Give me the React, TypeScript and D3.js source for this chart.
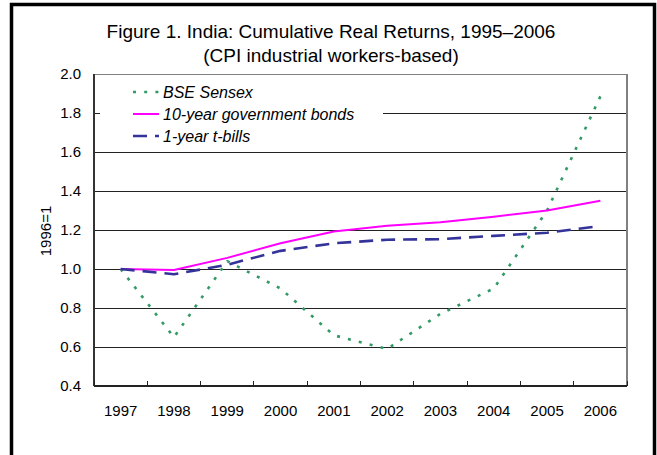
import React from "react";
import * as d3 from "d3";

const years = ["1997", "1998", "1999", "2000", "2001", "2002", "2003", "2004", "2005", "2006"];
const sensex = [1.0, 0.65, 1.04, 0.9, 0.66, 0.59, 0.77, 0.9, 1.3, 1.885];
const bonds = [1.0, 0.995, 1.057, 1.132, 1.192, 1.222, 1.24, 1.268, 1.3, 1.35];
const tbills = [1.0, 0.973, 1.022, 1.093, 1.132, 1.15, 1.153, 1.17, 1.186, 1.22];
const yTicks = [0.4, 0.6, 0.8, 1.0, 1.2, 1.4, 1.6, 1.8, 2.0];
const titleLines = ["Figure 1. India: Cumulative Real Returns, 1995–2006", "(CPI industrial workers-based)"];
const yAxisTitle = "1996=1";
const seriesNames = ["BSE Sensex", "10-year government bonds", "1-year t-bills"];

const W = 657;
const H = 455;
const M = { left: 94, right: 627, top: 74, bottom: 386 };
const FONT = "'Liberation Sans', Arial, Helvetica, sans-serif";

export default function App() {
  const x = d3.scaleBand<string>().domain(years).range([M.left, M.right]).padding(0);
  const y = d3.scaleLinear().domain([0.4, 2.0]).range([M.bottom, M.top]);
  const cx = (i: number) => (x(years[i]) as number) + x.bandwidth() / 2;
  const line = d3
    .line<number>()
    .x((_, i) => cx(i))
    .y((d) => y(d));

  const series = [
    { name: seriesNames[0], data: sensex, color: "#339966", width: 2.6, dash: "3 8.2" },
    { name: seriesNames[1], data: bonds, color: "#FF00FF", width: 2, dash: undefined },
    { name: seriesNames[2], data: tbills, color: "#333399", width: 2.6, dash: "14 8" },
  ];

  const boundaries = years.map((yr) => x(yr) as number).concat([M.right]);

  return (
    <svg
      width={W}
      height={H}
      style={{ position: "absolute", left: 0, top: 0, background: "#fff" }}
      fontFamily={FONT}
    >
      <rect x={0} y={0} width={W} height={H} fill="#fff" />
      {/* outer frame */}
      <rect x={11.5} y={4.5} width={643} height={470} fill="none" stroke="#000" strokeWidth={3.5} />

      {/* title */}
      {titleLines.map((t, i) => (
        <text key={i} x={331} y={38 + i * 24} textAnchor="middle" fontSize={19} fill="#000">
          {t}
        </text>
      ))}

      {/* gridlines */}
      {yTicks.map((t) => (
        <line
          key={t}
          x1={M.left}
          x2={M.right}
          y1={y(t)}
          y2={y(t)}
          stroke={t === 2.0 ? "#808080" : "#222"}
          strokeWidth={1}
          shapeRendering="crispEdges"
        />
      ))}
      {/* plot border */}
      <line x1={M.right} x2={M.right} y1={M.top} y2={M.bottom} stroke="#808080" strokeWidth={1.2} shapeRendering="crispEdges" />
      <line x1={M.left} x2={M.left} y1={M.top} y2={M.bottom} stroke="#333" strokeWidth={1.2} shapeRendering="crispEdges" />
      <line x1={M.left} x2={M.right} y1={M.bottom} y2={M.bottom} stroke="#222" strokeWidth={1.6} shapeRendering="crispEdges" />
      {boundaries.map((b, i) => (
        <line key={i} x1={b} x2={b} y1={M.bottom} y2={M.bottom - 5} stroke="#222" strokeWidth={1} shapeRendering="crispEdges" />
      ))}

      {/* y tick labels */}
      {yTicks.map((t) => (
        <text key={t} x={81} y={y(t) + 5} textAnchor="end" fontSize={15} fill="#000">
          {d3.format(".1f")(t)}
        </text>
      ))}
      {/* x tick labels */}
      {years.map((yr, i) => (
        <text key={yr} x={cx(i)} y={416} textAnchor="middle" fontSize={15} fill="#000">
          {yr}
        </text>
      ))}
      {/* y axis title */}
      <text transform={`translate(51,231) rotate(-90)`} textAnchor="middle" fontSize={15} fill="#000">
        {yAxisTitle}
      </text>

      {/* series */}
      {series.map((s) => (
        <path
          key={s.name}
          d={line(s.data) || ""}
          fill="none"
          stroke={s.color}
          strokeWidth={s.width}
          strokeDasharray={s.dash}
          strokeLinejoin="round"
        />
      ))}

      {/* legend */}
      <rect x={100} y={79} width={283} height={70} fill="#fff" />
      {series.map((s, i) => {
        const ly = 92 + i * 22;
        return (
          <g key={s.name}>
            <line x1={133} x2={159} y1={ly} y2={ly} stroke={s.color} strokeWidth={s.width} strokeDasharray={s.dash} />
            <text x={163} y={ly + 5.5} fontSize={16} fontStyle="italic" fill="#000">
              {s.name}
            </text>
          </g>
        );
      })}
    </svg>
  );
}
